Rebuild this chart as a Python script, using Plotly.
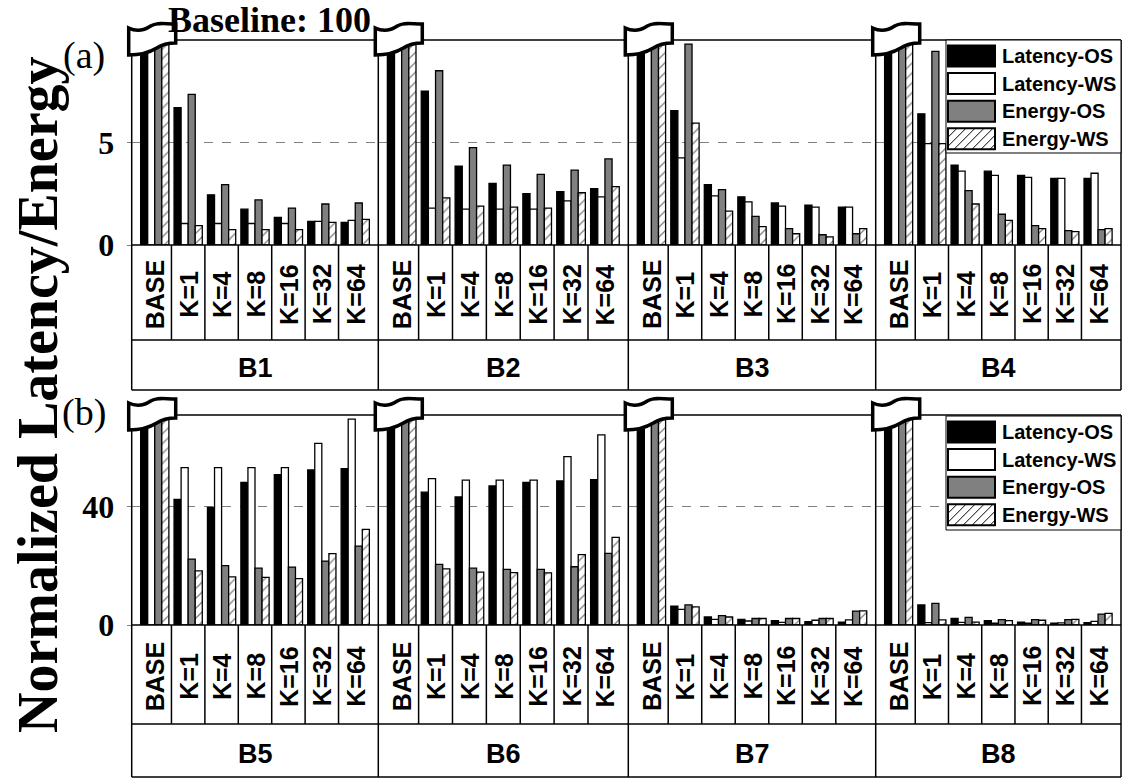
import plotly.graph_objects as go

W, H = 1122, 779

# ---------------------------------------------------------------- data
CONFIGS = ["BASE", "K=1", "K=4", "K=8", "K=16", "K=32", "K=64"]
PANEL_A = ["B1", "B2", "B3", "B4"]
PANEL_B = ["B5", "B6", "B7", "B8"]
SERIES = ["Latency-OS", "Latency-WS", "Energy-OS", "Energy-WS"]
BASELINE = 100

latency_os = {
    "B1": [BASELINE, 6.7, 2.45, 1.75, 1.35, 1.15, 1.1],
    "B2": [BASELINE, 7.5, 3.85, 3.0, 2.5, 2.6, 2.75],
    "B3": [BASELINE, 6.55, 2.95, 2.35, 2.05, 1.95, 1.85],
    "B4": [BASELINE, 6.4, 3.9, 3.6, 3.4, 3.25, 3.25],
    "B5": [BASELINE, 42.5, 39.8, 48.2, 50.8, 52.4, 52.9],
    "B6": [BASELINE, 44.9, 43.3, 47.0, 48.2, 48.7, 49.1],
    "B7": [BASELINE, 6.4, 2.7, 1.9, 1.5, 1.1, 1.0],
    "B8": [BASELINE, 6.8, 2.2, 1.5, 1.0, 0.6, 0.8],
}
latency_ws = {
    "B1": [BASELINE, 1.05, 1.05, 1.05, 1.05, 1.15, 1.2],
    "B2": [BASELINE, 1.8, 1.75, 1.75, 1.75, 2.15, 2.35],
    "B3": [BASELINE, 4.25, 2.4, 2.1, 1.9, 1.85, 1.85],
    "B4": [BASELINE, 4.95, 3.6, 3.4, 3.3, 3.25, 3.5],
    "B5": [BASELINE, 53.2, 53.2, 53.2, 53.2, 61.4, 69.6],
    "B6": [BASELINE, 49.5, 49.0, 49.0, 49.0, 56.9, 64.3],
    "B7": [BASELINE, 5.3, 1.9, 1.35, 0.9, 1.6, 1.7],
    "B8": [BASELINE, 0.8, 0.9, 0.6, 0.6, 0.7, 1.2],
}
energy_os = {
    "B1": [BASELINE, 7.35, 2.95, 2.2, 1.8, 2.0, 2.05],
    "B2": [BASELINE, 8.5, 4.75, 3.9, 3.45, 3.65, 4.2],
    "B3": [BASELINE, 9.8, 2.7, 1.4, 0.8, 0.5, 0.55],
    "B4": [BASELINE, 9.45, 2.65, 1.5, 0.95, 0.7, 0.75],
    "B5": [BASELINE, 22.3, 20.1, 19.2, 19.6, 21.6, 26.7],
    "B6": [BASELINE, 20.5, 19.2, 18.8, 18.8, 19.7, 24.2],
    "B7": [BASELINE, 6.8, 3.2, 2.2, 2.2, 2.2, 4.7],
    "B8": [BASELINE, 7.3, 2.6, 1.8, 1.8, 1.8, 3.7],
}
energy_ws = {
    "B1": [BASELINE, 0.95, 0.75, 0.75, 0.75, 1.1, 1.25],
    "B2": [BASELINE, 2.3, 1.9, 1.85, 1.8, 2.55, 2.85],
    "B3": [BASELINE, 5.95, 1.65, 0.9, 0.55, 0.4, 0.8],
    "B4": [BASELINE, 4.95, 2.0, 1.2, 0.8, 0.65, 0.8],
    "B5": [BASELINE, 18.3, 16.3, 16.1, 15.7, 24.1, 32.3],
    "B6": [BASELINE, 19.0, 17.9, 17.7, 17.6, 23.8, 29.6],
    "B7": [BASELINE, 6.1, 2.7, 2.2, 2.2, 2.2, 4.8],
    "B8": [BASELINE, 1.7, 1.0, 1.5, 1.6, 1.9, 3.9],
}
VALUES = {
    "Latency-OS": latency_os,
    "Latency-WS": latency_ws,
    "Energy-OS": energy_os,
    "Energy-WS": energy_ws,
}

# ---------------------------------------------------------------- styling
SERIF = "Liberation Serif"
SANS = "Liberation Sans"
GRAY = "#808080"
HATCH = dict(shape="/", fgcolor="black", bgcolor="white", size=7, solidity=0.18)
MARKERS = {
    "Latency-OS": dict(color="black"),
    "Latency-WS": dict(color="white"),
    "Energy-OS": dict(color=GRAY),
    "Energy-WS": dict(color="white", pattern=HATCH),
}
SWATCH_FILL = {"Latency-OS": "black", "Latency-WS": "white",
               "Energy-OS": GRAY, "Energy-WS": "white"}

# horizontal extent of each benchmark pane (px) and vertical layout of the two panels
GROUP_EDGES = [131.7, 378.3, 628.3, 875.7, 1121.0]
PANELS = [
    dict(tag="(a)", tag_y=55, bench=PANEL_A, ymax=10, ticks=[0, 5],
         top=40, zero=245, krow=340, brow=390, legend_top=40, legend_bottom=153),
    dict(tag="(b)", tag_y=412, bench=PANEL_B, ymax=71, ticks=[0, 40],
         top=415, zero=625, krow=724, brow=777, legend_top=416, legend_bottom=530),
]
X_RANGE = [-0.69, 6.69]
LINE = dict(color="black", width=1.5)


def px(x):
    return x / W


def py(y):
    return 1 - y / H


def label(x, y, text, font, xref="paper", textangle=0, xanchor="center"):
    return dict(xref=xref, yref="paper", x=x, y=y, text=text, textangle=textangle,
                showarrow=False, xanchor=xanchor, yanchor="middle", font=font)


def path_from_px(segments):
    out = []
    for cmd, pts in segments:
        coords = " ".join(f"{px(x):.5f},{py(y):.5f}" for x, y in pts)
        out.append(f"{cmd}{coords}")
    return " ".join(out) + " Z"


def flag_path(x0, y0):
    """Wavy 'axis break' badge anchored at the top-left corner of a pane."""
    rel = [
        ("M", [(-3, -12)]),
        ("C", [(5, -8), (13, -10), (19, -14)]),
        ("C", [(25, -18), (33, -16), (44, -16)]),
        ("L", [(44, 3)]),
        ("C", [(37, 3), (31, 4), (25, 8)]),
        ("C", [(17, 13), (8, 15), (-3, 15)]),
    ]
    segs = [(c, [(x0 + dx, y0 + dy) for dx, dy in pts]) for c, pts in rel]
    return path_from_px(segs)


def hatch_path(x0, y0, x1, y1, step=8):
    parts = []
    k = x0 + y0 + step
    while k < x1 + y1:
        ya = min(y1, k - x0)
        yb = max(y0, k - x1)
        parts.append(f"M{px(k - ya):.5f},{py(ya):.5f} L{px(k - yb):.5f},{py(yb):.5f}")
        k += step
    return " ".join(parts)


fig = go.Figure()
layout_axes = {}
shapes = []
annotations = []

for p, panel in enumerate(PANELS):
    top, zero, krow, brow = panel["top"], panel["zero"], panel["krow"], panel["brow"]
    for g, bench in enumerate(panel["bench"]):
        n = p * 4 + g + 1
        sfx = "" if n == 1 else str(n)
        xa, ya = "x" + sfx, "y" + sfx
        for s in SERIES:
            fig.add_trace(go.Bar(
                x=CONFIGS, y=VALUES[s][bench], name=s, xaxis=xa, yaxis=ya,
                marker=dict(**MARKERS[s], line=dict(color="black", width=1.3)),
                showlegend=False, cliponaxis=True,
            ))
        layout_axes["xaxis" + sfx] = dict(
            domain=[px(GROUP_EDGES[g]), px(GROUP_EDGES[g + 1])], anchor=ya,
            type="category", categoryorder="array", categoryarray=CONFIGS,
            range=X_RANGE, showticklabels=False, showgrid=False,
            zeroline=False, showline=False, ticks="", automargin=False,
        )
        first = g == 0
        layout_axes["yaxis" + sfx] = dict(
            domain=[py(zero), py(top)], anchor=xa, range=[0, panel["ymax"]],
            tickvals=panel["ticks"], showgrid=True, gridcolor=GRAY, griddash="dash",
            gridwidth=1, zeroline=False, showline=False, showticklabels=first,
            ticks="outside" if first else "", ticklen=4, tickcolor=GRAY,
            ticklabelstandoff=6, automargin=False,
            tickfont=dict(family=SERIF, size=32, color="black", weight="bold"),
        )

        # K separators in the configuration row
        for c in range(len(CONFIGS) - 1):
            shapes.append(dict(type="line", xref=xa, yref="paper",
                               x0=c + 0.5, x1=c + 0.5, y0=py(zero), y1=py(krow), line=LINE))
        # configuration labels
        for c, name in enumerate(CONFIGS):
            annotations.append(label(
                c, py((zero + krow) / 2 + 2), name, xref=xa, textangle=-90,
                font=dict(family=SANS, size=25, color="black", weight="bold")))
        # benchmark label
        annotations.append(label(
            0.5, py((krow + brow) / 2 + 3), bench, xref=xa + " domain",
            font=dict(family=SANS, size=27, color="black", weight="bold")))

    # pane frame and table rules
    for yy in (top, zero, krow, brow):
        shapes.append(dict(type="line", xref="paper", yref="paper",
                           x0=px(GROUP_EDGES[0]), x1=px(GROUP_EDGES[-1]),
                           y0=py(yy), y1=py(yy), line=LINE))
    for e in GROUP_EDGES:
        shapes.append(dict(type="line", xref="paper", yref="paper",
                           x0=px(e), x1=px(e), y0=py(top), y1=py(brow), line=LINE))

    # axis-break badges over the baseline bars
    for e in GROUP_EDGES[:-1]:
        shapes.append(dict(type="path", xref="paper", yref="paper",
                           path=flag_path(e, top), fillcolor="white",
                           line=dict(color="black", width=3.5)))

    # legend
    lt, lb = panel["legend_top"], panel["legend_bottom"]
    shapes.append(dict(type="rect", xref="paper", yref="paper",
                       x0=px(946), x1=px(1121), y0=py(lb), y1=py(lt),
                       fillcolor="white", line=dict(color="black", width=1)))
    for i, s in enumerate(SERIES):
        cy = lt + 16 + i * 27.6
        sx0, sx1, sy0, sy1 = 948, 995, cy - 10.5, cy + 10.5
        shapes.append(dict(type="rect", xref="paper", yref="paper",
                           x0=px(sx0), x1=px(sx1), y0=py(sy1), y1=py(sy0),
                           fillcolor=SWATCH_FILL[s], line=dict(color="black", width=2)))
        if s == "Energy-WS":
            shapes.append(dict(type="path", xref="paper", yref="paper",
                               path=hatch_path(sx0, sy0, sx1, sy1, step=9),
                               line=dict(color="black", width=1)))
        annotations.append(label(
            px(1000), py(cy), s, xanchor="left",
            font=dict(family=SANS, size=20, color="black", weight="bold")))

    annotations.append(label(
        px(84), py(panel["tag_y"]), panel["tag"],
        font=dict(family=SERIF, size=38, color="black")))

annotations.append(label(
    px(166), py(20), "Baseline: 100", xanchor="left",
    font=dict(family=SERIF, size=36, color="black", weight="bold")))
annotations.append(label(
    px(38), py(395), "Normalized Latency/Energy", textangle=-90,
    font=dict(family=SERIF, size=56, color="black", weight="bold")))

fig.update_layout(
    width=W, height=H, autosize=False,
    margin=dict(l=0, r=0, t=0, b=0, autoexpand=False),
    paper_bgcolor="white", plot_bgcolor="white",
    barmode="group", bargap=0.155, bargroupgap=0,
    shapes=shapes, annotations=annotations, showlegend=False,
    **layout_axes,
)

fig.write_html("out.html")
